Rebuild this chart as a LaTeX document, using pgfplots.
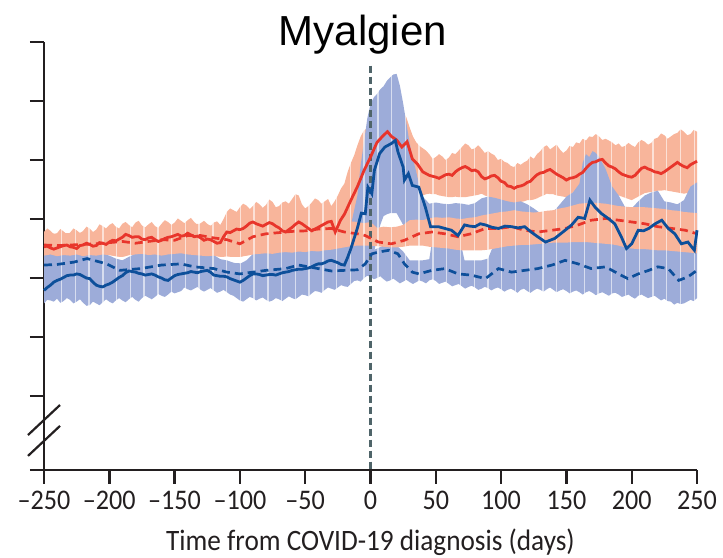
\documentclass[border=0pt]{standalone}
\usepackage{fontspec}
\usepackage{pgfplots}
\usepackage{pgfplotstable}
\pgfplotsset{compat=1.18}
\usepgfplotslibrary{fillbetween}

\newfontfamily\labelfont{Carlito}[FakeStretch=0.92]
\newfontfamily\titlefont{Liberation Sans}

\definecolor{redline}{HTML}{E8352B}
\definecolor{redband}{HTML}{F8B59B}
\definecolor{blueband}{HTML}{9DACD9}
\definecolor{blueline}{HTML}{0D4F9A}
\definecolor{zeroline}{HTML}{4F6469}
\definecolor{axisgray}{HTML}{231F20}

% ---- confidence bands (day, lower, upper) ----
% red group, solid series
\pgfplotstableread{
d lo hi
-250 2.38 2.78
-247.5 2.39 2.84
-245 2.40 2.80
-242.5 2.38 2.74
-240 2.37 2.76
-237.5 2.38 2.83
-235 2.39 2.79
-232.5 2.38 2.74
-230 2.38 2.77
-227.5 2.39 2.84
-225 2.40 2.81
-222.5 2.38 2.76
-220 2.37 2.80
-217.5 2.38 2.87
-215 2.39 2.84
-212.5 2.38 2.78
-210 2.38 2.82
-207.5 2.39 2.91
-205 2.40 2.88
-202.5 2.39 2.84
-200 2.39 2.90
-197.5 2.38 2.93
-195 2.37 2.87
-192.5 2.36 2.84
-190 2.36 2.92
-187.5 2.37 2.95
-185 2.39 2.90
-182.5 2.39 2.86
-180 2.40 2.94
-177.5 2.40 2.97
-175 2.41 2.89
-172.5 2.40 2.86
-170 2.39 2.91
-167.5 2.39 2.95
-165 2.40 2.88
-162.5 2.39 2.85
-160 2.38 2.92
-157.5 2.39 2.98
-155 2.40 2.95
-152.5 2.40 2.90
-150 2.41 2.94
-147.5 2.41 3.01
-145 2.42 2.97
-142.5 2.41 2.93
-140 2.40 2.98
-137.5 2.39 3.02
-135 2.39 2.95
-132.5 2.38 2.90
-130 2.38 2.93
-127.5 2.37 2.97
-125 2.37 2.92
-122.5 2.37 2.88
-120 2.38 2.94
-117.5 2.37 2.96
-115 2.36 2.90
-112.5 2.36 3.00
-110 2.37 3.12
-107.5 2.36 3.18
-105 2.36 3.15
-102.5 2.36 3.12
-100 2.36 3.20
-97.5 2.37 3.26
-95 2.38 3.23
-92.5 2.39 3.17
-90 2.40 3.22
-87.5 2.40 3.29
-85 2.41 3.25
-82.5 2.41 3.19
-80 2.42 3.24
-77.5 2.41 3.33
-75 2.41 3.29
-72.5 2.42 3.20
-70 2.43 3.22
-67.5 2.43 3.28
-65 2.44 3.30
-62.5 2.43 3.26
-60 2.43 3.34
-57.5 2.44 3.42
-55 2.45 3.40
-52.5 2.44 3.25
-50 2.44 3.18
-47.5 2.45 3.22
-45 2.46 3.28
-42.5 2.45 3.35
-40 2.45 3.32
-37.5 2.46 3.26
-35 2.47 3.30
-32.5 2.47 3.34
-30 2.48 3.22
-27.5 2.49 3.30
-25 2.50 3.40
-22.5 2.51 3.52
-20 2.52 3.60
-17.5 2.53 3.80
-15 2.55 3.95
-12.5 2.56 4.08
-10 2.58 4.25
-7.5 2.60 4.40
-5 2.62 4.50
-2.5 2.66 4.54
0 2.70 4.60
2.5 2.85 4.66
5 3.00 4.68
7.5 3.15 4.70
10 3.30 4.75
12.5 3.30 4.79
15 3.30 4.80
17.5 3.30 4.85
20 3.30 4.80
22.5 3.31 4.84
25 3.32 4.82
27.5 3.33 4.72
30 3.35 4.55
32.5 3.36 4.40
35 3.38 4.30
37.5 3.39 4.24
40 3.40 4.20
42.5 3.42 4.16
45 3.43 4.10
47.5 3.42 4.02
50 3.42 4.05
52.5 3.40 4.10
55 3.39 4.06
57.5 3.38 4.00
60 3.37 4.04
62.5 3.37 4.12
65 3.38 4.10
67.5 3.37 4.16
70 3.37 4.22
72.5 3.37 4.28
75 3.38 4.25
77.5 3.39 4.18
80 3.40 4.20
82.5 3.41 4.25
85 3.43 4.19
87.5 3.40 4.12
90 3.38 4.15
92.5 3.34 4.11
95 3.30 4.08
97.5 3.28 4.00
100 3.26 4.02
102.5 3.26 3.97
105 3.27 3.95
107.5 3.26 3.90
110 3.26 3.88
112.5 3.27 3.95
115 3.29 3.92
117.5 3.30 3.96
120 3.32 3.99
122.5 3.32 4.06
125 3.33 4.02
127.5 3.35 4.10
130 3.38 4.15
132.5 3.40 4.22
135 3.43 4.25
137.5 3.42 4.18
140 3.42 4.22
142.5 3.40 4.26
145 3.39 4.18
147.5 3.38 4.12
150 3.37 4.16
152.5 3.41 4.24
155 3.45 4.22
157.5 3.50 4.30
160 3.54 4.28
162.5 3.53 4.36
165 3.52 4.33
167.5 3.51 4.40
170 3.50 4.39
172.5 3.50 4.44
175 3.49 4.40
177.5 3.47 4.34
180 3.46 4.36
182.5 3.45 4.33
185 3.44 4.30
187.5 3.42 4.25
190 3.40 4.28
192.5 3.38 4.22
195 3.36 4.24
197.5 3.34 4.29
200 3.32 4.25
202.5 3.35 4.22
205 3.38 4.30
207.5 3.41 4.34
210 3.44 4.31
212.5 3.45 4.26
215 3.46 4.29
217.5 3.47 4.36
220 3.48 4.38
222.5 3.48 4.45
225 3.49 4.42
227.5 3.48 4.36
230 3.47 4.40
232.5 3.46 4.44
235 3.45 4.46
237.5 3.44 4.52
240 3.43 4.48
242.5 3.44 4.42
245 3.46 4.44
247.5 3.48 4.51
250 3.49 4.48
}\bandRedSolid

% blue group, solid series
\pgfplotstableread{
d lo hi
-250 1.95 2.40
-245 1.95 2.41
-240 1.95 2.39
-235 1.95 2.40
-230 1.95 2.40
-225 1.95 2.41
-220 1.95 2.39
-215 1.95 2.40
-210 1.95 2.39
-205 1.95 2.41
-200 1.95 2.38
-195 1.95 2.33
-190 1.95 2.30
-185 1.95 2.36
-180 1.95 2.41
-175 1.95 2.42
-170 1.95 2.40
-165 1.95 2.41
-160 1.95 2.39
-155 1.95 2.41
-150 1.95 2.42
-145 1.95 2.43
-140 1.95 2.41
-135 1.95 2.40
-130 1.95 2.39
-125 1.95 2.38
-120 1.95 2.39
-115 1.95 2.32
-110 1.95 2.30
-105 1.95 2.26
-100 1.95 2.24
-95 1.95 2.30
-90 1.95 2.41
-85 1.95 2.42
-80 1.95 2.43
-75 1.95 2.42
-70 1.95 2.44
-65 1.95 2.45
-60 1.95 2.44
-55 1.95 2.46
-50 1.95 2.45
-45 1.95 2.47
-40 1.95 2.46
-35 1.95 2.48
-30 1.95 2.50
-25 1.95 2.52
-20 1.95 2.60
-15 1.95 2.90
-10 1.98 3.40
-7.5 1.99 3.92
-5 2.00 4.30
-2.5 2.05 4.70
0 2.10 4.95
2.5 2.40 5.06
5 2.70 5.12
7.5 2.90 5.20
10 3.05 5.25
12.5 3.08 5.34
15 3.10 5.40
17.5 3.10 5.45
20 3.10 5.46
22.5 3.00 5.26
25 2.90 4.96
27.5 2.80 4.62
30 2.70 4.28
32.5 2.67 4.02
35 2.65 3.80
37.5 2.63 3.56
40 2.62 3.38
45 2.60 3.26
50 2.58 3.28
55 2.58 3.26
60 2.57 3.25
65 2.56 3.27
70 2.55 3.26
75 2.55 3.24
80 2.55 3.27
85 2.56 3.35
90 2.56 3.38
95 2.57 3.36
100 2.58 3.33
105 2.58 3.30
110 2.60 3.28
115 2.60 3.30
120 2.60 3.25
125 2.61 3.18
130 2.62 3.10
135 2.62 3.08
140 2.62 3.12
145 2.62 3.25
150 2.62 3.38
155 2.63 3.45
160 2.63 3.60
162.5 2.63 3.95
165 2.62 4.10
167.5 2.62 4.05
170 2.62 4.15
172.5 2.61 4.12
175 2.60 4.05
180 2.60 3.85
185 2.58 3.55
190 2.56 3.40
195 2.54 3.20
200 2.52 3.18
205 2.52 3.30
210 2.52 3.40
215 2.50 3.45
220 2.50 3.48
225 2.50 3.30
230 2.50 3.28
235 2.48 3.25
240 2.47 3.32
245 2.46 3.55
250 2.45 3.62
}\bandBlueSolid

% blue group, dashed series: upper edge
\pgfplotstableread{
d hi
-250 2.30
-200 2.30
-150 2.30
-100 2.25
-50 2.30
-20 2.35
-10 2.35
-5 2.40
0 2.45
5 2.50
10 2.55
15 2.55
20 2.55
25 2.45
30 2.30
35 2.30
40 2.30
45 2.32
47 2.60
55 2.62
65 2.62
70 2.50
72 2.30
80 2.30
85 2.30
90 2.33
95 2.60
110 2.62
150 2.64
180 2.64
200 2.62
220 2.60
250 2.58
}\bandBlueDashedHi

% blue group, dashed series: lower edge (also the floor of the blue shading)
\pgfplotstableread{
d lo
-250 1.57
-247.5 1.63
-245 1.62
-242.5 1.60
-240 1.65
-237.5 1.58
-235 1.61
-232.5 1.66
-230 1.63
-227.5 1.57
-225 1.60
-222.5 1.64
-220 1.58
-217.5 1.53
-215 1.54
-212.5 1.60
-210 1.57
-207.5 1.54
-205 1.59
-202.5 1.64
-200 1.60
-197.5 1.57
-195 1.62
-192.5 1.66
-190 1.62
-187.5 1.59
-185 1.64
-182.5 1.68
-180 1.63
-177.5 1.60
-175 1.66
-172.5 1.70
-170 1.67
-167.5 1.64
-165 1.68
-162.5 1.73
-160 1.70
-157.5 1.68
-155 1.72
-152.5 1.77
-150 1.74
-147.5 1.76
-145 1.78
-142.5 1.84
-140 1.81
-137.5 1.79
-135 1.82
-132.5 1.85
-130 1.80
-127.5 1.77
-125 1.80
-122.5 1.83
-120 1.79
-117.5 1.75
-115 1.77
-112.5 1.80
-110 1.76
-107.5 1.72
-105 1.70
-102.5 1.66
-100 1.62
-97.5 1.60
-95 1.64
-92.5 1.68
-90 1.66
-87.5 1.62
-85 1.65
-82.5 1.67
-80 1.63
-77.5 1.60
-75 1.62
-72.5 1.66
-70 1.64
-67.5 1.61
-65 1.65
-62.5 1.69
-60 1.66
-57.5 1.64
-55 1.68
-52.5 1.72
-50 1.71
-47.5 1.69
-45 1.74
-42.5 1.78
-40 1.77
-37.5 1.75
-35 1.80
-32.5 1.84
-30 1.82
-27.5 1.80
-25 1.84
-22.5 1.88
-20 1.86
-17.5 1.85
-15 1.90
-12.5 1.95
-10 1.96
-7.5 1.94
-5 2.00
-2.5 2.04
0 2.02
2.5 1.98
5 2.00
7.5 2.03
10 1.98
12.5 1.94
15 1.96
17.5 1.99
20 1.95
22.5 1.91
25 1.94
27.5 1.97
30 1.93
32.5 1.90
35 1.93
37.5 1.96
40 1.94
42.5 1.91
45 1.96
47.5 1.98
50 1.95
52.5 1.90
55 1.92
57.5 1.94
60 1.90
62.5 1.86
65 1.88
67.5 1.90
70 1.86
72.5 1.82
75 1.85
77.5 1.87
80 1.84
82.5 1.80
85 1.82
87.5 1.85
90 1.83
92.5 1.79
95 1.82
97.5 1.84
100 1.81
102.5 1.77
105 1.80
107.5 1.82
110 1.79
112.5 1.75
115 1.80
117.5 1.82
120 1.78
122.5 1.75
125 1.79
127.5 1.82
130 1.80
132.5 1.77
135 1.81
137.5 1.84
140 1.80
142.5 1.76
145 1.79
147.5 1.81
150 1.78
152.5 1.74
155 1.77
157.5 1.79
160 1.76
162.5 1.72
165 1.76
167.5 1.78
170 1.75
172.5 1.71
175 1.74
177.5 1.76
180 1.73
182.5 1.70
185 1.74
187.5 1.75
190 1.72
192.5 1.68
195 1.70
197.5 1.72
200 1.68
202.5 1.65
205 1.70
207.5 1.72
210 1.69
212.5 1.66
215 1.68
217.5 1.70
220 1.66
222.5 1.62
225 1.65
227.5 1.61
230 1.60
232.5 1.55
235 1.58
237.5 1.56
240 1.57
242.5 1.60
245 1.63
247.5 1.61
250 1.66
}\bandBlueDashedLo

% red group, dashed series
\pgfplotstableread{
d lo hi
-250 2.38 2.76
-245 2.40 2.76
-240 2.37 2.75
-235 2.39 2.76
-230 2.38 2.76
-225 2.40 2.77
-220 2.37 2.77
-215 2.39 2.78
-210 2.38 2.78
-205 2.40 2.79
-200 2.39 2.80
-195 2.37 2.81
-190 2.36 2.82
-185 2.39 2.80
-180 2.40 2.79
-175 2.41 2.80
-170 2.39 2.82
-165 2.40 2.84
-160 2.38 2.85
-155 2.40 2.84
-150 2.41 2.84
-145 2.42 2.88
-140 2.40 2.92
-135 2.39 2.92
-130 2.38 2.92
-125 2.37 2.90
-120 2.38 2.88
-115 2.36 2.86
-110 2.37 2.85
-105 2.36 2.82
-100 2.36 2.80
-95 2.38 2.85
-90 2.40 2.90
-85 2.41 2.93
-80 2.42 2.95
-75 2.41 2.96
-70 2.43 2.97
-65 2.44 2.98
-60 2.43 2.99
-55 2.45 3.00
-50 2.44 3.00
-45 2.46 3.02
-40 2.45 3.03
-35 2.47 3.04
-30 2.48 3.04
-25 2.50 3.01
-20 2.52 2.98
-15 2.54 2.96
-10 2.55 2.95
-5 2.55 2.93
0 2.55 2.95
5 2.54 2.85
10 2.53 2.87
15 2.52 2.86
20 2.52 2.87
25 2.53 2.90
30 2.55 2.98
35 2.55 2.99
40 2.55 2.98
45 2.53 3.01
50 2.52 3.03
55 2.51 3.02
60 2.50 3.03
65 2.48 3.01
70 2.47 3.00
75 2.47 3.02
80 2.47 3.03
85 2.47 3.06
90 2.48 3.08
95 2.50 3.10
100 2.52 3.12
105 2.54 3.13
110 2.55 3.15
115 2.56 3.13
120 2.56 3.12
125 2.57 3.11
130 2.58 3.12
135 2.59 3.14
140 2.60 3.15
145 2.60 3.18
150 2.60 3.20
155 2.61 3.23
160 2.61 3.26
165 2.61 3.27
170 2.60 3.28
175 2.59 3.27
180 2.58 3.26
185 2.57 3.24
190 2.55 3.22
195 2.52 3.21
200 2.50 3.20
205 2.49 3.20
210 2.49 3.20
215 2.48 3.19
220 2.47 3.18
225 2.47 3.17
230 2.46 3.15
235 2.45 3.14
240 2.44 3.12
245 2.43 3.11
250 2.42 3.10
}\bandRedDashed

% ---- central estimates ----
\pgfplotstableread{
d y
-250 2.53
-247.5 2.54
-245 2.51
-242.5 2.49
-240 2.51
-237.5 2.53
-235 2.55
-232.5 2.56
-230 2.53
-227.5 2.52
-225 2.50
-222.5 2.55
-220 2.56
-217.5 2.59
-215 2.57
-212.5 2.54
-210 2.55
-207.5 2.60
-205 2.59
-202.5 2.57
-200 2.61
-197.5 2.64
-195 2.63
-192.5 2.66
-190 2.69
-187.5 2.74
-185 2.72
-182.5 2.69
-180 2.70
-177.5 2.70
-175 2.66
-172.5 2.65
-170 2.68
-167.5 2.69
-165 2.65
-162.5 2.62
-160 2.64
-157.5 2.67
-155 2.69
-152.5 2.70
-150 2.72
-147.5 2.74
-145 2.71
-142.5 2.72
-140 2.76
-137.5 2.73
-135 2.70
-132.5 2.71
-130 2.68
-127.5 2.64
-125 2.66
-122.5 2.65
-120 2.62
-117.5 2.59
-115 2.60
-112.5 2.70
-110 2.78
-107.5 2.77
-105 2.80
-102.5 2.83
-100 2.82
-97.5 2.84
-95 2.88
-92.5 2.93
-90 2.95
-87.5 2.92
-85 2.90
-82.5 2.88
-80 2.91
-77.5 2.94
-75 2.92
-72.5 2.88
-70 2.85
-67.5 2.80
-65 2.78
-62.5 2.82
-60 2.86
-57.5 2.91
-55 2.95
-52.5 2.92
-50 2.88
-47.5 2.84
-45 2.80
-42.5 2.83
-40 2.86
-37.5 2.89
-35 2.92
-32.5 2.95
-30 2.96
-27 2.78
-23 2.98
-20 3.08
-15 3.32
-10 3.55
-5 3.82
0 4.05
5 4.30
10 4.42
13 4.48
16 4.40
20 4.34
24 4.22
28 4.31
32 4.02
36 3.93
40 3.80
45 3.74
50 3.71
52.5 3.69
55 3.72
57.5 3.75
60 3.76
62.5 3.74
65 3.80
67.5 3.84
70 3.87
72.5 3.89
75 3.86
77.5 3.82
80 3.83
82.5 3.80
85 3.72
87.5 3.68
90 3.70
92.5 3.73
95 3.74
97.5 3.70
100 3.64
102.5 3.62
105 3.56
107.5 3.55
110 3.52
112.5 3.55
115 3.56
117.5 3.58
120 3.62
122.5 3.64
125 3.70
127.5 3.75
130 3.78
132.5 3.79
135 3.82
137.5 3.84
140 3.80
142.5 3.76
145 3.73
147.5 3.70
150 3.66
152.5 3.69
155 3.70
157.5 3.72
160 3.76
162.5 3.79
165 3.86
167.5 3.92
170 3.96
172.5 3.97
175 4.00
177.5 4.01
180 3.95
182.5 3.90
185 3.88
187.5 3.85
190 3.80
192.5 3.76
195 3.74
197.5 3.72
200 3.71
202.5 3.74
205 3.80
207.5 3.86
210 3.88
212.5 3.85
215 3.83
217.5 3.80
220 3.79
222.5 3.77
225 3.80
227.5 3.84
230 3.88
232.5 3.92
235 3.96
237.5 3.92
240 3.89
242.5 3.87
245 3.92
247.5 3.95
250 3.98
}\lineRedSolid

\pgfplotstableread{
d y
-250 2.56
-240 2.55
-230 2.56
-220 2.57
-210 2.58
-200 2.60
-190 2.62
-180 2.59
-170 2.62
-160 2.65
-150 2.64
-140 2.72
-130 2.72
-120 2.68
-110 2.65
-100 2.58
-90 2.70
-80 2.75
-70 2.77
-60 2.79
-50 2.80
-40 2.83
-30 2.84
-20 2.78
-10 2.75
-4 2.72
6 2.61
16 2.58
26 2.64
37 2.75
47 2.78
57 2.75
67 2.70
77 2.75
88 2.84
98 2.84
108 2.87
118 2.81
128 2.78
139 2.81
149 2.84
159 2.90
169 2.98
180 3.01
190 2.98
200 2.95
210 2.92
220 2.87
231 2.84
241 2.81
250 2.75
}\lineRedDashed

\pgfplotstableread{
d y
-250 1.79
-247.5 1.84
-245 1.88
-242.5 1.93
-240 1.96
-237.5 1.98
-235 2.01
-232.5 2.04
-230 2.05
-227.5 2.05
-225 2.07
-222.5 2.06
-220 2.03
-217.5 2.00
-215 1.99
-212.5 1.93
-210 1.88
-207.5 1.86
-205 1.85
-202.5 1.88
-200 1.90
-197.5 1.93
-195 1.97
-192.5 2.01
-190 2.04
-187.5 2.09
-185 2.12
-182.5 2.11
-180 2.10
-177.5 2.08
-175 2.07
-172.5 2.05
-170 2.06
-167.5 2.07
-165 2.05
-162.5 2.02
-160 2.00
-157.5 1.97
-155 1.96
-152.5 2.00
-150 2.04
-147.5 2.06
-145 2.07
-142.5 2.08
-140 2.09
-137.5 2.11
-135 2.10
-132.5 2.09
-130 2.11
-127.5 2.12
-125 2.13
-122.5 2.10
-120 2.05
-117.5 2.04
-115 2.03
-112.5 2.03
-110 2.02
-107.5 1.99
-105 1.97
-102.5 1.95
-100 1.93
-97.5 1.96
-95 2.00
-92.5 2.04
-90 2.07
-87.5 2.07
-85 2.06
-82.5 2.04
-80 2.05
-77.5 2.06
-75 2.06
-72.5 2.05
-70 2.07
-67.5 2.09
-65 2.10
-62.5 2.11
-60 2.13
-57.5 2.14
-55 2.15
-52.5 2.15
-50 2.16
-47.5 2.17
-45 2.19
-42.5 2.22
-40 2.24
-37.5 2.24
-35 2.26
-32.5 2.29
-30 2.30
-27.5 2.28
-25 2.26
-22.5 2.23
-20 2.22
-17.5 2.35
-15 2.50
-10 2.85
-7 3.10
-4 3.09
-2 3.54
1 3.43
3 3.83
7 4.11
11 4.22
16 4.28
19 4.33
21 4.14
25 3.88
26 3.66
29 3.77
32 3.57
37 3.54
42 3.20
46 2.87
52 2.87
57 2.84
62 2.81
67 2.72
72 2.90
76 2.88
80 2.87
84 2.92
88 2.90
93 2.86
98 2.84
103 2.88
108 2.87
113 2.85
118 2.87
123 2.78
128 2.70
134 2.61
141 2.67
145 2.74
149 2.81
154 2.90
159 3.03
164 3.01
168 3.32
172 3.20
177 3.09
182 3.01
187 2.92
192 2.70
196 2.50
200 2.58
205 2.81
209 2.80
213 2.84
218 2.92
223 2.98
228 2.84
233 2.75
238 2.58
243 2.61
248 2.47
250 2.81
}\lineBlueSolid

\pgfplotstableread{
d y
-250 2.22
-240 2.23
-227 2.27
-217 2.33
-202 2.24
-192 2.13
-176 2.16
-160 2.22
-145 2.24
-135 2.19
-120 2.16
-110 2.10
-100 2.07
-90 2.10
-80 2.13
-65 2.16
-55 2.22
-40 2.16
-30 2.12
-20 2.13
-10 2.14
-4 2.24
1 2.41
6 2.44
14 2.47
21 2.41
26 2.24
32 2.10
37 2.07
47 2.13
57 2.16
67 2.07
77 2.05
88 1.99
98 2.16
108 2.10
118 2.13
128 2.16
139 2.22
149 2.30
159 2.24
169 2.16
180 2.19
190 2.07
197 1.99
205 2.07
213 2.13
220 2.19
228 2.16
236 1.96
243 2.02
250 2.13
}\lineBlueDashed

\begin{document}
\begin{tikzpicture}
\begin{axis}[
  scale only axis,
  width=326.5pt, height=214pt,
  xmin=-250, xmax=250, ymin=-1.253, ymax=6,
  axis x line*=bottom, axis y line*=left,
  axis line style={line width=1.2pt, color=axisgray},
  xtick={-250,-200,...,250},
  xticklabels={{\textendash}250,{\textendash}200,{\textendash}150,{\textendash}100,{\textendash}50,0,50,100,150,200,250},
  ytick={-1.253,0,1,2,3,4,5,6},
  yticklabels={},
  xtick pos=lower, ytick pos=left,
  tick align=outside,
  major tick length=7pt,
  tick style={line width=1.2pt, color=axisgray},
  clip=false,
  xticklabel style={font=\labelfont\fontsize{14.2}{16}\selectfont, text=axisgray},
  xlabel={Time from COVID-19 diagnosis (days)},
  xlabel style={font=\labelfont\fontsize{14.8}{17}\selectfont, text=axisgray,
    at={(axis description cs:0.5,0)}, anchor=base, yshift=-40.5pt},
  title={Myalgien},
  title style={font=\titlefont\fontsize{21}{25}\selectfont,
    at={(axis description cs:0.4885,1)}, anchor=base, yshift=-7.5pt},
]
\coordinate (O) at (rel axis cs:0,0);

% bands
\addplot[draw=none, name path=rsl, forget plot] table[x=d, y=lo] {\bandRedSolid};
\addplot[draw=none, name path=rsh, forget plot] table[x=d, y=hi] {\bandRedSolid};
\addplot[fill=redband, draw=none, forget plot] fill between[of=rsl and rsh];

\addplot[draw=none, name path=bsl, forget plot] table[x=d, y=lo] {\bandBlueSolid};
\addplot[draw=none, name path=bsh, forget plot] table[x=d, y=hi] {\bandBlueSolid};
\addplot[fill=blueband, draw=none, forget plot] fill between[of=bsl and bsh];

\addplot[draw=none, name path=bdl, forget plot] table[x=d, y=lo] {\bandBlueDashedLo};
\addplot[draw=none, name path=bdh, forget plot] table[x=d, y=hi] {\bandBlueDashedHi};
\addplot[fill=blueband, draw=none, forget plot] fill between[of=bdl and bdh];

\addplot[draw=none, name path=rdl, forget plot] table[x=d, y=lo] {\bandRedDashed};
\addplot[draw=none, name path=rdh, forget plot] table[x=d, y=hi] {\bandRedDashed};
\addplot[fill=redband, draw=none, forget plot] fill between[of=rdl and rdh];

% thin light seams across the shaded bands
\pgfplotsinvokeforeach{0,...,46}{
  \draw[white, opacity=0.6, line width=0.7pt]
    (axis cs:{-236.5+10.53*#1},1.45) -- (axis cs:{-236.5+10.53*#1},5.6);
}

% day of diagnosis
\draw[zeroline, line width=1.5pt, dash pattern=on 3.5pt off 2pt]
  (axis cs:0,5.6) -- (axis cs:0,-1.253);

% central estimates
\addplot[redline, line width=1.35pt, dash pattern=on 4pt off 2.5pt] table[x=d, y=y] {\lineRedDashed};
\addplot[blueline, line width=1.35pt, dash pattern=on 4pt off 2.5pt] table[x=d, y=y] {\lineBlueDashed};
\addplot[redline, line width=1.4pt] table[x=d, y=y] {\lineRedSolid};
\addplot[blueline, line width=1.4pt] table[x=d, y=y] {\lineBlueSolid};

% axis break
\draw[line width=1.1pt, axisgray] ([shift={(-8pt,-7.5pt)}]axis cs:-250,-0.406) -- ++(16pt,15pt);
\draw[line width=1.1pt, axisgray] ([shift={(-8pt,-7.5pt)}]axis cs:-250,-0.76) -- ++(16pt,15pt);
\end{axis}
\pgfresetboundingbox
\path (O) ++(-22pt,-43.5pt) rectangle ++(361.5pt,278.5pt);
\end{tikzpicture}
\end{document}
